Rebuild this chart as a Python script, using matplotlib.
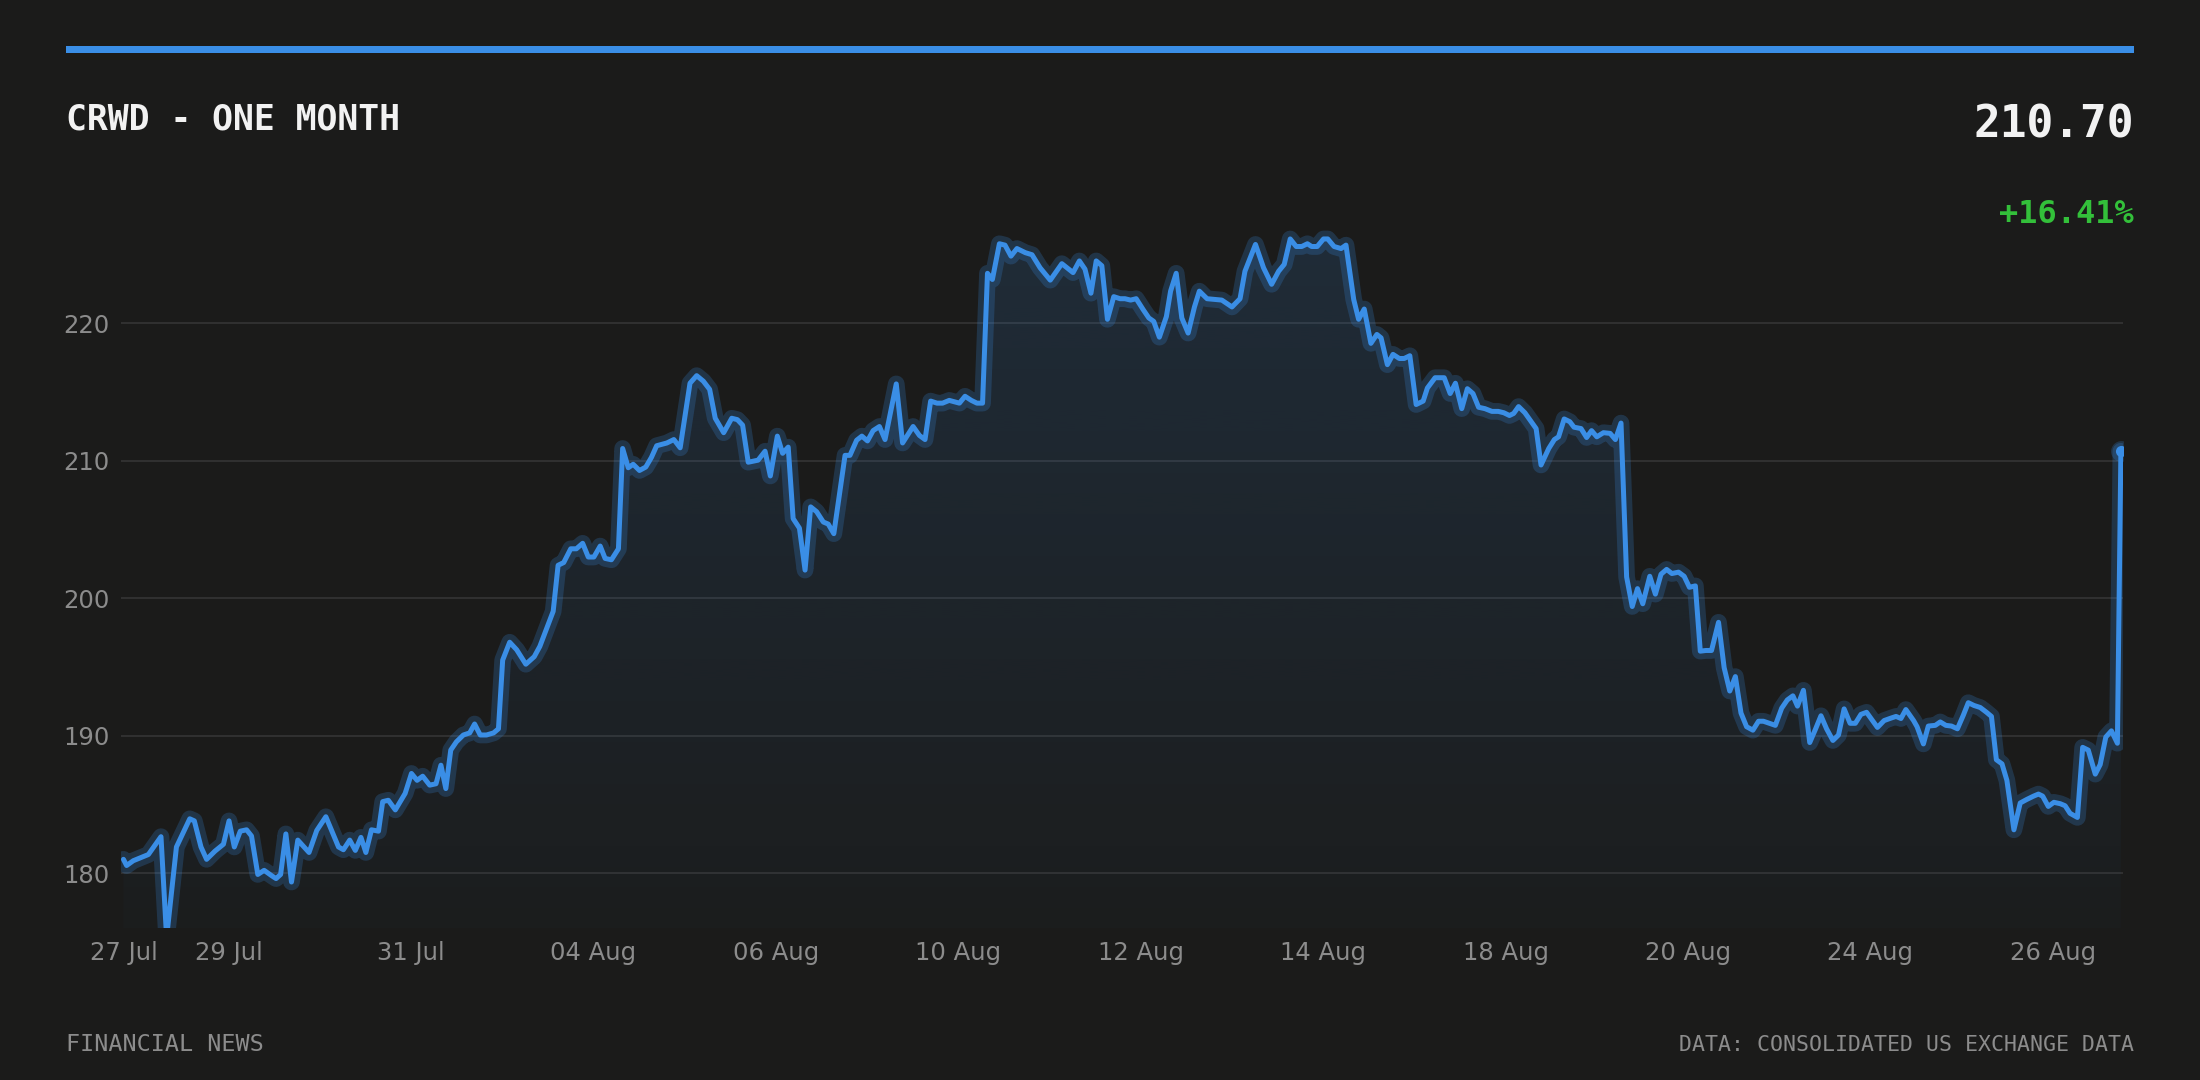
import numpy as np
import matplotlib
matplotlib.use("Agg")
import matplotlib.pyplot as plt
from matplotlib.patches import Rectangle
from matplotlib.colors import to_rgb

# --- data: CRWD one month, position in 30-min bars from the first print ---
bar_pos = [
    0.0, 0.45, 1.4, 3.55, 5.35, 6.15, 7.55, 9.45, 10.1, 11.05, 11.85, 13.05, 14.25, 15.05, 15.8,
    16.65, 17.55, 18.25, 19.15, 20.05, 21.15, 21.75, 22.4, 23.15, 23.95, 24.85, 26.45, 27.55, 28.85,
    30.65, 31.35, 32.25, 33.05, 33.85, 34.55, 35.35, 36.35, 36.95, 37.75, 38.75, 40.15, 41.05, 41.85,
    42.65, 43.65, 44.55, 45.25, 45.95, 46.65, 47.45, 48.45, 49.35, 50.05, 50.85, 51.75, 52.75, 53.45,
    54.05, 55.05, 56.05, 57.35, 58.55, 59.35,
    61.25, 61.95, 62.75, 63.75, 64.55, 65.45, 66.25, 67.05, 67.95, 68.65, 69.55, 70.55, 71.15, 71.95,
    72.65, 73.55, 74.45, 75.25, 76.0, 77.45, 78.45, 79.35, 80.75, 81.7, 82.65, 83.55, 84.35, 85.55,
    86.7, 87.5, 88.25, 89.05, 90.45, 91.45, 92.2,
    93.2, 93.95, 94.75, 95.45, 96.35, 97.15, 97.95, 98.8, 99.75, 100.45, 101.25, 102.85, 103.55, 104.5,
    105.25, 106.05, 106.85, 107.75, 108.55, 110.15, 111.05, 112.55, 113.45, 114.25, 115.05, 115.95,
    116.75, 117.7, 119.15, 119.95, 120.85, 121.65, 122.45, 123.15, 123.85,
    124.85, 125.65, 126.5, 127.35, 128.55, 129.5, 130.65, 132.1, 133.75, 135.35, 136.25, 137.05, 137.9,
    138.65, 139.45, 140.25, 141.15, 142.05, 142.75, 143.55, 144.35, 145.35, 146.15, 146.85, 147.65,
    148.65, 149.25, 150.05, 150.85, 151.75, 152.65, 153.35, 154.45,
    156.55, 158.0, 159.15, 159.85, 161.35, 162.5, 163.65, 164.65, 165.45, 166.3, 167.15, 167.95, 168.75,
    169.35, 170.15, 171.05, 171.65, 172.55, 173.55, 174.25, 175.35, 176.05, 176.85, 177.8, 178.65,
    179.25, 180.15, 180.95, 181.85, 182.55, 183.35, 184.25, 185.25, 185.85,
    186.95, 188.25, 189.1, 189.85, 190.75, 191.55, 192.35, 193.15, 194.05, 195.05, 195.95, 196.75,
    197.55, 198.15, 198.85, 199.75, 201.35, 202.05, 203.15, 203.95, 204.55, 205.35, 206.15, 206.75,
    207.75, 208.55, 209.25, 210.0, 210.95, 211.9, 212.65, 213.45, 214.25, 215.05, 215.8, 216.55, 217.55,
    218.35, 219.15, 219.95, 220.7, 221.65, 222.45, 223.2, 224.05, 224.75, 225.55, 226.35, 227.35,
    228.15, 228.95, 229.75, 230.55, 231.35, 232.25, 233.05, 233.75, 234.6, 235.45, 236.35, 237.15,
    237.95, 238.6, 239.45, 240.35, 241.15, 241.95, 242.75, 243.65, 244.45, 245.25, 246.1, 246.85,
    247.65, 248.45,
    250.0, 250.95, 252.05, 252.65, 253.35, 254.05, 255.15, 255.65, 256.55, 257.25, 258.25, 258.95,
    259.75, 260.55, 261.4, 262.25, 262.95, 263.75, 264.65, 265.55, 266.25, 266.95, 267.75, 268.45,
    269.45, 270.35, 271.25, 272.25, 272.95, 273.55, 274.35, 275.15, 276.05, 276.75, 277.45, 278.5,
    279.25, 280.05, 281.05, 281.75, 282.55, 283.35, 284.2, 284.7,
]

price = [
    181.0, 180.55, 180.9, 181.35, 182.65, 175.3, 181.9, 183.95, 183.8, 181.9, 181.0, 181.6, 182.1, 183.8, 181.9,
    183.05, 183.15, 182.7, 179.9, 180.2, 179.8, 179.6, 179.9, 182.85, 179.35, 182.4, 181.5, 183.1, 184.1,
    181.9, 181.7, 182.4, 181.65, 182.6, 181.5, 183.15, 183.05, 185.2, 185.3, 184.6, 185.8, 187.25, 186.75,
    187.05, 186.4, 186.5, 187.85, 186.15, 188.95, 189.55, 190.05, 190.2, 190.85, 190.05, 190.05, 190.2, 190.5,
    195.5, 196.8, 196.25, 195.2, 195.75, 196.5,
    199.05, 202.4, 202.6, 203.6, 203.6, 204.0, 203.0, 203.0, 203.8, 202.9, 202.8, 203.6, 210.9, 209.5,
    209.75, 209.3, 209.55, 210.25, 211.1, 211.3, 211.55, 210.95, 215.65, 216.2, 215.8, 215.2, 213.1, 212.05,
    213.1, 213.0, 212.6, 209.9, 210.05, 210.7, 208.9,
    211.8, 210.55, 211.0, 205.8, 205.1, 202.05, 206.65, 206.3, 205.55, 205.4, 204.7, 210.4, 210.4, 211.5,
    211.8, 211.45, 212.2, 212.5, 211.55, 215.6, 211.3, 212.5, 211.85, 211.55, 214.35, 214.2,
    214.2, 214.4, 214.2, 214.7, 214.4, 214.2, 214.2, 223.65, 223.2,
    225.8, 225.7, 224.9, 225.45, 225.15, 225.0, 224.05, 223.15, 224.35, 223.7, 224.55, 223.95, 222.2,
    224.55, 224.2, 220.3, 221.95, 221.8, 221.8, 221.7, 221.8, 221.0, 220.4, 220.15, 219.0,
    220.5, 222.35, 223.65, 220.4, 219.3, 221.2, 222.35, 221.8,
    221.7, 221.2, 221.8, 223.8, 225.75, 224.05, 222.85, 223.8, 224.3, 226.15, 225.6, 225.6, 225.8,
    225.6, 225.6, 226.15, 226.15, 225.6, 225.45, 225.7, 221.75, 220.3, 221.05, 218.55, 219.2,
    218.95, 217.0, 217.75, 217.45, 217.45, 217.65, 214.1, 214.35, 215.3,
    216.05, 216.05, 214.9, 215.65, 213.8, 215.25, 214.9, 213.9, 213.8, 213.6, 213.6, 213.5,
    213.3, 213.45, 213.95, 213.5, 212.35, 209.7, 210.9, 211.55, 211.75, 213.05, 212.85, 212.45,
    212.35, 211.7, 212.2, 211.75, 212.05, 212.0, 211.55, 212.75, 201.55, 199.4, 200.7, 199.6, 201.6,
    200.3, 201.75, 202.1, 201.8, 201.9, 201.6, 200.8, 200.9, 196.15, 196.2, 196.2, 198.25,
    194.95, 193.25, 194.3, 191.65, 190.65, 190.4, 191.05, 191.05, 190.9, 190.75, 192.0, 192.6,
    192.9, 192.15, 193.3, 189.5, 190.45, 191.45, 190.5, 189.65, 190.05, 191.95, 190.9, 190.9,
    191.55, 191.7,
    190.6, 191.1, 191.3, 191.4, 191.25, 191.9, 191.1, 190.65, 189.4, 190.7, 190.75, 191.0,
    190.75, 190.7, 190.5, 191.5, 192.4, 192.2, 192.05, 191.7, 191.4, 188.25, 187.95, 186.75,
    183.15, 185.1, 185.35, 185.6, 185.75, 185.6, 184.85, 185.15, 185.05, 184.9, 184.35, 184.05,
    189.15, 188.95, 187.2, 187.9, 189.9, 190.35, 189.45, 210.7,
]

tick_pos = [0, 15, 41, 67, 93, 119, 145, 171, 197, 223, 249, 275]
tick_labels = ['27 Jul', '29 Jul', '31 Jul', '04 Aug', '06 Aug', '10 Aug',
               '12 Aug', '14 Aug', '18 Aug', '20 Aug', '24 Aug', '26 Aug']
y_ticks = [180, 190, 200, 210, 220]

last_price = '210.70'
change_pct = '+16.41%'

BG = '#1b1b1a'
BLUE = '#3a8ee6'
GREEN = '#33c03a'
GRID = '#333333'
MUTED = '#8c8c8c'
MONO = 'DejaVu Sans Mono'

t = np.array(bar_pos)
p = np.array(price)
y_lo, y_hi = 176, 228

fig = plt.figure(figsize=(22, 10.8), dpi=100, facecolor=BG)
ax = fig.add_axes([0.055, 0.1407, 0.910, 0.6616])
ax.set_facecolor(BG)

# gradient fill under the line
poly = ax.fill_between(t, p, y_lo, color='none', lw=0)
rgb = to_rgb(BLUE)
alpha = np.linspace(0.02, 0.15, 256)
grad = np.zeros((256, 1, 4))
grad[:, 0, :3] = rgb
grad[:, 0, 3] = alpha
img = ax.imshow(grad, extent=[t[0], t[-1], y_lo, p.max()], origin='lower',
                aspect='auto', zorder=1, interpolation='bilinear')
img.set_clip_path(poly.get_paths()[0], transform=ax.transData)

# glow + line
ax.plot(t, p, color=BLUE, lw=12, alpha=0.22, solid_joinstyle='round',
        solid_capstyle='round', zorder=2)
ax.plot(t, p, color=BLUE, lw=3.6, solid_joinstyle='round',
        solid_capstyle='round', zorder=3)
ax.plot(t[-1], p[-1], 'o', color=BLUE, ms=15, alpha=0.22, mec='none', zorder=3)
ax.plot(t[-1], p[-1], 'o', color=BLUE, ms=8, mec='none', zorder=4)

ax.set_xlim(-0.35, 285.0)
ax.set_ylim(y_lo, y_hi)
ax.set_xticks(tick_pos)
ax.set_xticklabels(tick_labels)
ax.set_yticks(y_ticks)
ax.tick_params(axis='both', length=0, labelsize=17.5, labelcolor=MUTED)
ax.tick_params(axis='x', pad=9)
ax.tick_params(axis='y', pad=8)
ax.grid(axis='y', color=GRID, lw=1.3)
ax.set_axisbelow(True)
for s in ax.spines.values():
    s.set_visible(False)

# header / footer
fig.patches.append(Rectangle((0.030, 0.951), 0.940, 0.0065, transform=fig.transFigure,
                             color=BLUE, lw=0))
fig.text(0.030, 0.889, 'CRWD - ONE MONTH', family=MONO, weight='bold', size=25,
         color='#f2f2f2', ha='left', va='center')
fig.text(0.970, 0.884, last_price, family=MONO, weight='bold', size=32,
         color='#f2f2f2', ha='right', va='center')
fig.text(0.970, 0.801, change_pct, family=MONO, weight='bold', size=23,
         color=GREEN, ha='right', va='center')
fig.text(0.030, 0.033, 'FINANCIAL NEWS', family=MONO, size=16.8,
         color=MUTED, ha='left', va='center')
fig.text(0.970, 0.032, 'DATA: CONSOLIDATED US EXCHANGE DATA', family=MONO, size=15.5,
         color=MUTED, ha='right', va='center')

fig.savefig('out.png', dpi=100, facecolor=BG)
